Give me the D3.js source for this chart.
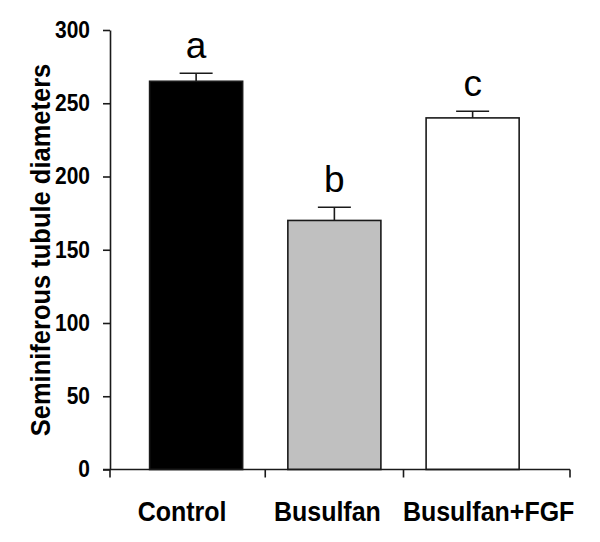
<!DOCTYPE html>
<html>
<head>
<meta charset="utf-8">
<script src="https://cdn.jsdelivr.net/npm/d3@7"></script>
<style>
  html, body { margin: 0; padding: 0; background: #fff; }
  svg { display: block; }
  text { font-family: "Liberation Sans", Arial, Helvetica, sans-serif; }
</style>
</head>
<body>
<svg id="chart" width="600" height="542"></svg>
<script>
// ---- data ----
const categories = ["Control", "Busulfan", "Busulfan+FGF"];
const means = [265, 170, 240];
const errors = [5.5, 9, 4.5];
const letters = ["a", "b", "c"];
const fills = ["#000000", "#c0c0c0", "#ffffff"];
const yTicks = [0, 50, 100, 150, 200, 250, 300];
const yTitle = "Seminiferous tubule diameters";

// ---- layout ----
const svg = d3.select("#chart");
const axisLeftX = 110, axisRightX = 570;
const y = d3.scaleLinear().domain([0, 300]).range([469.5, 30]);
const x = d3.scaleBand().domain(categories)
  .range([127, 541.75]).paddingInner(0.327).paddingOuter(0.1635);

// bars
svg.selectAll("rect.bar").data(categories).enter().append("rect")
  .attr("class", "bar")
  .attr("x", d => x(d))
  .attr("width", x.bandwidth())
  .attr("y", (d, i) => y(means[i]))
  .attr("height", (d, i) => y(0) - y(means[i]))
  .attr("fill", (d, i) => fills[i])
  .attr("stroke", "#1a1a1a")
  .attr("stroke-width", 1.6);

// error bars (upper only)
const capW = 33;
categories.forEach((c, i) => {
  const cx = x(c) + x.bandwidth() / 2;
  svg.append("line")
    .attr("x1", cx).attr("x2", cx)
    .attr("y1", y(means[i])).attr("y2", y(means[i] + errors[i]))
    .attr("stroke", "#1a1a1a").attr("stroke-width", 1.6);
  svg.append("line")
    .attr("x1", cx - capW / 2).attr("x2", cx + capW / 2)
    .attr("y1", y(means[i] + errors[i])).attr("y2", y(means[i] + errors[i]))
    .attr("stroke", "#1a1a1a").attr("stroke-width", 1.6);
  svg.append("text")
    .attr("x", cx).attr("y", y(means[i] + errors[i]) - 15)
    .attr("text-anchor", "middle")
    .attr("font-size", 37)
    .attr("fill", "#000")
    .text(letters[i]);
});

// y axis
const yAxis = d3.axisLeft(y).tickValues(yTicks).tickSize(7).tickPadding(13).tickSizeOuter(0);
const gy = svg.append("g").attr("transform", `translate(${axisLeftX},0)`).call(yAxis);
gy.select(".domain").attr("stroke", "#1a1a1a").attr("stroke-width", 1.6);
gy.selectAll(".tick line").attr("stroke", "#1a1a1a").attr("stroke-width", 1.6);
gy.selectAll(".tick text")
  .attr("font-size", 21).attr("font-weight", "bold").attr("fill", "#000")
  .attr("font-family", "Liberation Sans, Arial, sans-serif")
  .attr("transform", "scale(1,1.1)");

// x axis line
svg.append("line")
  .attr("x1", axisLeftX - 7).attr("x2", axisRightX)
  .attr("y1", y(0)).attr("y2", y(0))
  .attr("stroke", "#1a1a1a").attr("stroke-width", 1.6);

// x ticks at category boundaries
const centers = categories.map(c => x(c) + x.bandwidth() / 2);
const tickXs = [axisLeftX];
for (let i = 0; i < centers.length - 1; i++) tickXs.push((centers[i] + centers[i + 1]) / 2);
tickXs.push(axisRightX);
svg.selectAll("line.xtick").data(tickXs).enter().append("line")
  .attr("class", "xtick")
  .attr("x1", d => d).attr("x2", d => d)
  .attr("y1", y(0)).attr("y2", y(0) + 8)
  .attr("stroke", "#1a1a1a").attr("stroke-width", 1.6);

// x labels
const labelShift = [-14, -7, 16];
svg.selectAll("text.xlab").data(categories).enter().append("text")
  .attr("class", "xlab")
  .attr("transform", (d, i) => `translate(${centers[i] + labelShift[i]},521) scale(1,1.1)`)
  .attr("text-anchor", "middle")
  .attr("font-size", 25).attr("font-weight", "bold").attr("fill", "#000")
  .text(d => d);

// y title
svg.append("text")
  .attr("transform", "translate(50,250) rotate(-90) scale(1,1.1)")
  .attr("text-anchor", "middle")
  .attr("font-size", 25.5).attr("font-weight", "bold").attr("fill", "#000")
  .text(yTitle);
</script>
</body>
</html>
